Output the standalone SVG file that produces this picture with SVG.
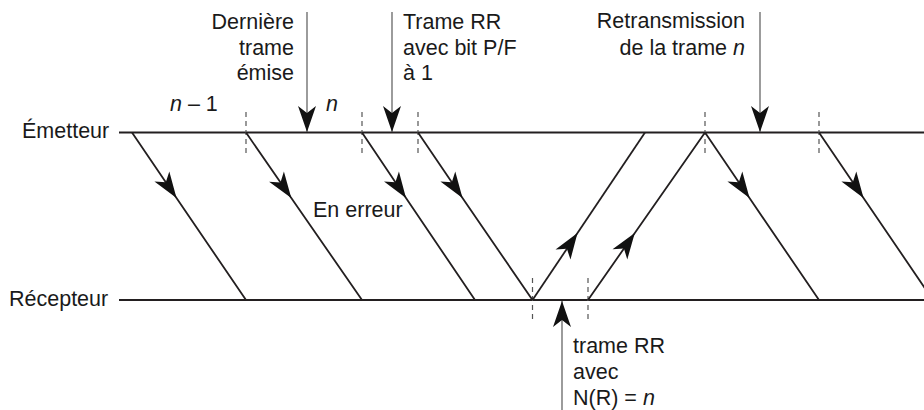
<svg xmlns="http://www.w3.org/2000/svg" width="924" height="410" viewBox="0 0 924 410">
<style>
.t{font-family:"Liberation Sans",Arial,sans-serif;font-size:21.5px;fill:#1a1a1a}
.i{font-style:italic}
.ln{stroke:#231f20;stroke-width:1.8;fill:none}
.fr{stroke:#231f20;stroke-width:1.8;fill:none;marker-mid:url(#ah)}
.ptr{stroke:#666;stroke-width:1.3;fill:none;marker-end:url(#ah)}
.dash{stroke:#555;stroke-width:1.2;stroke-dasharray:5 4;fill:none}
</style>
<defs>
<marker id="ah" markerUnits="userSpaceOnUse" orient="auto" refX="0" refY="0" markerWidth="30" markerHeight="20" overflow="visible">
<path d="M0,0 L-26,-9 L-19,0 L-26,9 Z" fill="#111"/>
</marker>
</defs>
<rect width="924" height="410" fill="#fff"/>
<g id="emetteur">
<line class="ln" x1="119" y1="132.5" x2="924" y2="132.5"/>
<text class="t" x="22" y="138">Émetteur</text>
</g>
<g id="recepteur">
<line class="ln" x1="119" y1="300" x2="924" y2="300"/>
<text class="t" x="9" y="306">Récepteur</text>
</g>
<g id="ticks">
<line class="dash" x1="246" y1="112" x2="246" y2="153"/>
<line class="dash" x1="362" y1="112" x2="362" y2="153"/>
<line class="dash" x1="418" y1="112" x2="418" y2="153"/>
<line class="dash" x1="705" y1="112" x2="705" y2="153"/>
<line class="dash" x1="819" y1="112" x2="819" y2="153"/>
<line class="dash" x1="532.5" y1="278" x2="532.5" y2="320"/>
<line class="dash" x1="588" y1="278" x2="588" y2="320"/>
</g>
<g id="connectors">
<path class="fr" d="M132,132.5 L176.5,198 L246,300"/>
<path class="fr" d="M246,132.5 L291.3,198 L362,300"/>
<path class="fr" d="M362,132.5 L406,198 L475,300"/>
<path class="fr" d="M418,132.5 L462.5,198 L532.5,300"/>
<path class="fr" d="M532.5,300 L577.5,233 L645,132.5"/>
<path class="fr" d="M588,300 L634.8,233 L705,132.5"/>
<path class="fr" d="M705,132.5 L749.5,198 L819,300"/>
<path class="fr" d="M819,132.5 L863.5,198 L933,300"/>
<line class="ptr" x1="307" y1="12" x2="307" y2="132"/>
<line class="ptr" x1="392" y1="12" x2="392" y2="132"/>
<line class="ptr" x1="760" y1="12" x2="760" y2="132"/>
<line class="ptr" x1="562" y1="410" x2="562" y2="301"/>
</g>
<g id="label-derniere">
<text class="t" text-anchor="end" x="294" y="29">Dernière</text>
<text class="t" text-anchor="end" x="294" y="54.5">trame</text>
<text class="t" text-anchor="end" x="294" y="80">émise</text>
</g>
<g id="label-rr-pf">
<text class="t" x="403" y="29">Trame RR</text>
<text class="t" x="403" y="54.5">avec bit P/F</text>
<text class="t" x="403" y="80">à 1</text>
</g>
<g id="label-retrans">
<text class="t" text-anchor="end" x="745" y="28">Retransmission</text>
<text class="t" text-anchor="end" x="745" y="54.5">de la trame <tspan class="i">n</tspan></text>
</g>
<g id="label-n">
<text class="t" x="170" y="111"><tspan class="i">n</tspan> – 1</text>
<text class="t i" x="326" y="111">n</text>
</g>
<g id="label-erreur">
<text class="t" x="313" y="217">En erreur</text>
</g>
<g id="label-rr-nr">
<text class="t" x="573" y="353">trame RR</text>
<text class="t" x="573" y="379">avec</text>
<text class="t" x="573" y="405">N(R) = <tspan class="i">n</tspan></text>
</g>
</svg>
